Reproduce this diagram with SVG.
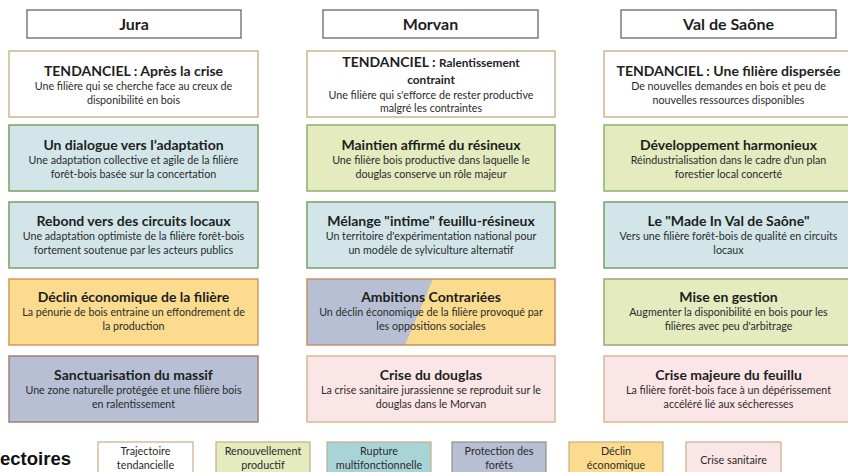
<svg xmlns="http://www.w3.org/2000/svg" width="848" height="472" viewBox="0 0 848 472">
<style>
text{font-family:Lato,"Liberation Sans",sans-serif;text-anchor:middle;fill:#1e1e1e}
.hd{font-size:16px;font-weight:bold}
.t{font-size:14px;font-weight:bold}
.ts{font-size:11.8px;font-weight:bold}
.s{font-size:10.7px;fill:#2b2b2b}
.lg{font-size:10.8px;fill:#2b2b2b}
.hbox{fill:#fff;stroke:#5a5a5a;stroke-width:1.2}
.box{stroke-width:1.5}
.tend{fill:#fff;stroke:#cbb68f}
.blue{fill:#d2e6e9;stroke:#79a065}
.green{fill:#e3ebbf;stroke:#8fae70}
.yel{fill:#fbdc8f;stroke:#d39b52}
.prot{fill:#b7bfd4;stroke:#a27f6e}
.pink{fill:#fbe6e7;stroke:#d6b893}
.lbox{stroke:#c9ad84;stroke-width:1.2}
</style>
<rect width="848" height="472" fill="#fff"/>

<g id="hdr-jura"><rect class="hbox" x="27" y="10" width="214" height="28"/><text class="hd" x="134" y="29.5">Jura</text></g>
<g id="hdr-morvan"><rect class="hbox" x="323" y="10" width="215" height="28"/><text class="hd" x="430.5" y="29.5">Morvan</text></g>
<g id="hdr-val"><rect class="hbox" x="621" y="10" width="215" height="28"/><text class="hd" x="728.5" y="29.5">Val de Saône</text></g>

<!-- Jura -->
<g id="jura-1"><rect class="box tend" x="9" y="51" width="249" height="66"/>
<text class="t" x="133.5" y="76">TENDANCIEL : Après la crise</text>
<text class="s" x="133.5" y="90">Une filière qui se cherche face au creux de</text>
<text class="s" x="133.5" y="104">disponibilité en bois</text></g>
<g id="jura-2"><rect class="box blue" x="9" y="125" width="249" height="66"/>
<text class="t" x="133.5" y="150">Un dialogue vers l’adaptation</text>
<text class="s" x="133.5" y="164">Une adaptation collective et agile de la filière</text>
<text class="s" x="133.5" y="178">forêt-bois basée sur la concertation</text></g>
<g id="jura-3"><rect class="box blue" x="9" y="202" width="249" height="66"/>
<text class="t" x="133.5" y="226">Rebond vers des circuits locaux</text>
<text class="s" x="133.5" y="240">Une adaptation optimiste de la filière forêt-bois</text>
<text class="s" x="133.5" y="254">fortement soutenue par les acteurs publics</text></g>
<g id="jura-4"><rect class="box yel" x="9" y="279" width="249" height="66"/>
<text class="t" x="133.5" y="302">Déclin économique de la filière</text>
<text class="s" x="133.5" y="316">La pénurie de bois entraine un effondrement de</text>
<text class="s" x="133.5" y="330">la production</text></g>
<g id="jura-5"><rect class="box prot" x="9" y="356" width="249" height="66"/>
<text class="t" x="133.5" y="380">Sanctuarisation du massif</text>
<text class="s" x="133.5" y="394">Une zone naturelle protégée et une filière bois</text>
<text class="s" x="133.5" y="408">en ralentissement</text></g>

<!-- Morvan -->
<g id="morvan-1"><rect class="box tend" x="307" y="51" width="248" height="66"/>
<text class="t" x="431" y="67">TENDANCIEL : <tspan class="ts">Ralentissement</tspan></text>
<text class="ts" x="431" y="84">contraint</text>
<text class="s" x="431" y="99">Une filière qui s'efforce de rester productive</text>
<text class="s" x="431" y="112">malgré les contraintes</text></g>
<g id="morvan-2"><rect class="box green" x="307" y="125" width="248" height="66"/>
<text class="t" x="431" y="150">Maintien affirmé du résineux</text>
<text class="s" x="431" y="164">Une filière bois productive dans laquelle le</text>
<text class="s" x="431" y="178">douglas conserve un rôle majeur</text></g>
<g id="morvan-3"><rect class="box blue" x="307" y="202" width="248" height="66"/>
<text class="t" x="431" y="226">Mélange "intime" feuillu-résineux</text>
<text class="s" x="431" y="240">Un territoire d'expérimentation national pour</text>
<text class="s" x="431" y="254">un modèle de sylviculture alternatif</text></g>
<g id="morvan-4"><rect x="307" y="279" width="248" height="66" fill="#fbdc8f"/>
<polygon points="307,279 433,279 405,345 307,345" fill="#b7bfd4"/>
<rect x="307" y="279" width="248" height="66" fill="none" stroke="#c79062" stroke-width="1.5"/>
<text class="t" x="431" y="302">Ambitions Contrariées</text>
<text class="s" x="431" y="316">Un déclin économique de la filière provoqué par</text>
<text class="s" x="431" y="330">les oppositions sociales</text></g>
<g id="morvan-5"><rect class="box pink" x="307" y="356" width="248" height="66"/>
<text class="t" x="431" y="380">Crise du douglas</text>
<text class="s" x="431" y="394">La crise sanitaire jurassienne se reproduit sur le</text>
<text class="s" x="431" y="408">douglas dans le Morvan</text></g>

<!-- Val de Saone -->
<g id="val-1"><rect class="box tend" x="604" y="51" width="249" height="66"/>
<text class="t" x="728.5" y="76">TENDANCIEL : Une filière dispersée</text>
<text class="s" x="728.5" y="90">De nouvelles demandes en bois et peu de</text>
<text class="s" x="728.5" y="104">nouvelles ressources disponibles</text></g>
<g id="val-2"><rect class="box green" x="604" y="125" width="249" height="66"/>
<text class="t" x="728.5" y="150">Développement harmonieux</text>
<text class="s" x="728.5" y="164">Réindustrialisation dans le cadre d'un plan</text>
<text class="s" x="728.5" y="178">forestier local concerté</text></g>
<g id="val-3"><rect class="box blue" x="604" y="202" width="249" height="66"/>
<text class="t" x="728.5" y="226">Le "Made In Val de Saône"</text>
<text class="s" x="728.5" y="240">Vers une filière forêt-bois de qualité en circuits</text>
<text class="s" x="728.5" y="254">locaux</text></g>
<g id="val-4"><rect class="box green" x="604" y="279" width="249" height="66"/>
<text class="t" x="728.5" y="302">Mise en gestion</text>
<text class="s" x="728.5" y="316">Augmenter la disponibilité en bois pour les</text>
<text class="s" x="728.5" y="330">filières avec peu d'arbitrage</text></g>
<g id="val-5"><rect class="box pink" x="604" y="356" width="249" height="66"/>
<text class="t" x="728.5" y="380">Crise majeure du feuillu</text>
<text class="s" x="728.5" y="394">La filière forêt-bois face à un dépérissement</text>
<text class="s" x="728.5" y="408">accéléré lié aux sécheresses</text></g>

<!-- Legend -->
<g id="legend">
<text x="71" y="465" style="font-family:'Liberation Sans',Arial,sans-serif;font-size:18.5px;font-weight:bold;text-anchor:end;fill:#111">ectoires</text>
<g id="lg-tend"><rect class="lbox" x="98" y="442" width="95" height="40" fill="#fff"/>
<text class="lg" x="145.5" y="455">Trajectoire</text><text class="lg" x="145.5" y="469">tendancielle</text></g>
<g id="lg-renouv"><rect class="lbox" x="216" y="442" width="94" height="40" fill="#e3ebbf"/>
<text class="lg" x="263" y="455">Renouvellement</text><text class="lg" x="263" y="469">productif</text></g>
<g id="lg-rupt"><rect class="lbox" x="327" y="442" width="104" height="40" fill="#a9d4d7"/>
<text class="lg" x="379" y="455">Rupture</text><text class="lg" x="379" y="469">multifonctionnelle</text></g>
<g id="lg-prot"><rect class="lbox" x="452" y="442" width="94" height="40" fill="#b7bfd4" style="stroke:#8f8f8f"/>
<text class="lg" x="499" y="455">Protection des</text><text class="lg" x="499" y="469">forêts</text></g>
<g id="lg-decl"><rect class="lbox" x="569" y="442" width="94" height="40" fill="#fbdc8f"/>
<text class="lg" x="616" y="455">Déclin</text><text class="lg" x="616" y="469">économique</text></g>
<g id="lg-crise"><rect class="lbox" x="686" y="442" width="95" height="40" fill="#fbe6e7"/>
<text class="lg" x="733.5" y="464">Crise sanitaire</text></g>
</g>
</svg>
